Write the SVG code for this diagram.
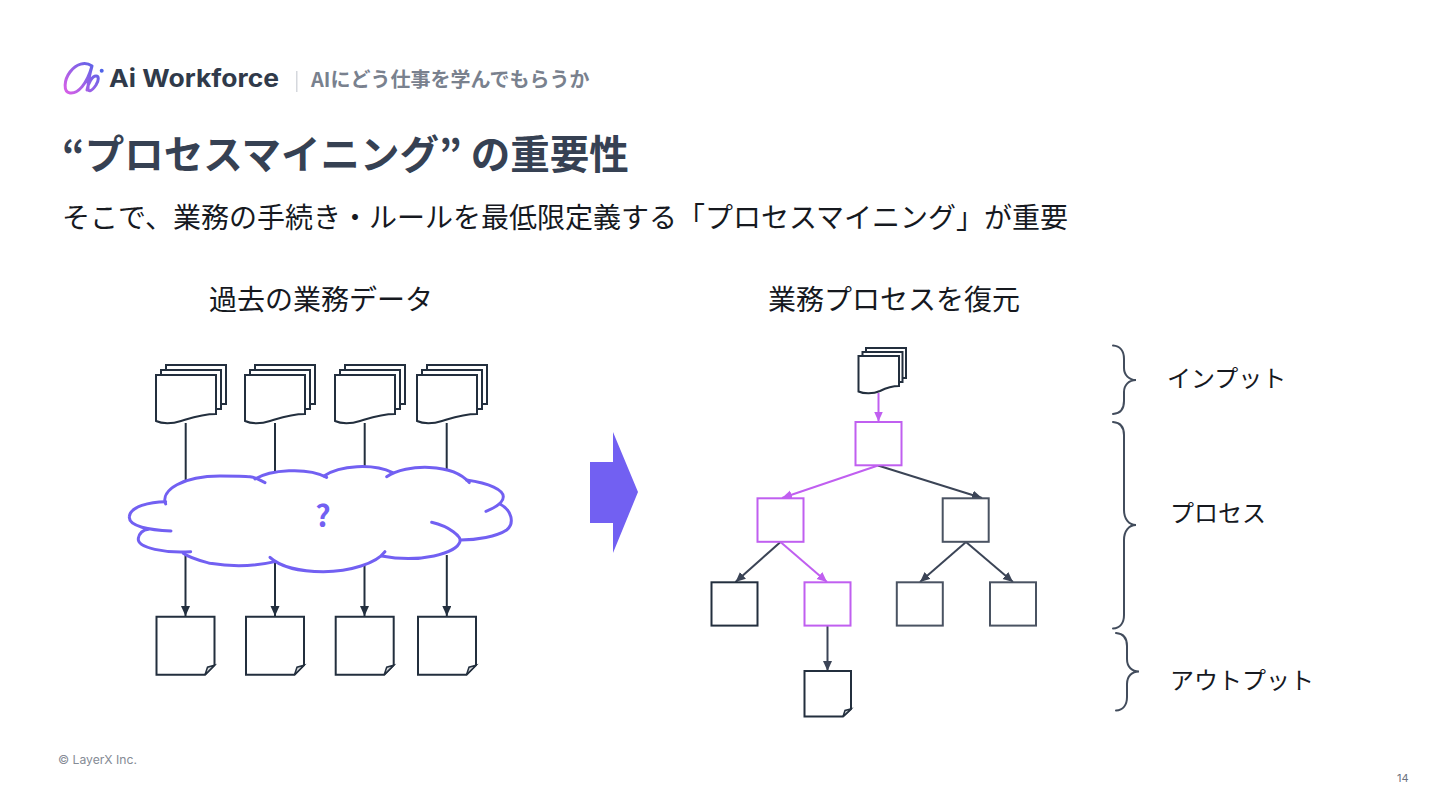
<svg xmlns="http://www.w3.org/2000/svg" width="1440" height="810" viewBox="0 0 1440 810">
<style>
.jp{font-family:"Noto Sans CJK JP","Noto Sans",sans-serif}
.lat{font-family:"Inter","Liberation Sans",sans-serif}
.t{font-size:28px;fill:#16191f}
.l{font-size:24px;fill:#16191f}
.dk{fill:#fff;stroke:#232f3e;stroke-width:2}
.cn{fill:none;stroke:#232f3e;stroke-width:2}
.cng{fill:none;stroke:#3b4456;stroke-width:2}
.cnp{fill:none;stroke:#c05ff0;stroke-width:2}
.bp{fill:#fff;stroke:#c05ff0;stroke-width:2}
.bg{fill:#fff;stroke:#4a5362;stroke-width:2}
.bb{fill:#fff;stroke:#232f3e;stroke-width:2}
.brace{fill:none;stroke:#424c5c;stroke-width:2;stroke-linecap:round}
.cloud{fill:none;stroke:#7260f2;stroke-width:3;stroke-linecap:round}
</style>
<defs>
<linearGradient id="lg" gradientUnits="userSpaceOnUse" x1="66" y1="94" x2="100" y2="64"><stop offset="0" stop-color="#d95fe6"/><stop offset="1" stop-color="#4f63e8"/></linearGradient>
<marker id="aD" markerUnits="userSpaceOnUse" markerWidth="11" markerHeight="10" refX="10" refY="4.500" orient="auto"><path d="M0 0L10 4.500L0 9Z" fill="#232f3e"/></marker>
<marker id="aG" markerUnits="userSpaceOnUse" markerWidth="11" markerHeight="10" refX="10" refY="4.500" orient="auto"><path d="M0 0L10 4.500L0 9Z" fill="#3b4456"/></marker>
<marker id="aP" markerUnits="userSpaceOnUse" markerWidth="11" markerHeight="10" refX="10" refY="4.500" orient="auto"><path d="M0 0L10 4.500L0 9Z" fill="#c05ff0"/></marker>
<g id="stack">
<rect class="dk" x="10" y="-10" width="60" height="39"/>
<rect class="dk" x="5" y="-5" width="60" height="39"/>
<path class="dk" d="M0 0H60V39C45 39 32 44 25 46C16 49 6 49 0 46Z"/>
</g>
<g id="page">
<path class="dk" d="M0 0H58V48.500L48.500 58H0Z"/>
<path d="M48.500 58L51 50.500L58 48.500Z" fill="#d7dadd" stroke="#232f3e" stroke-width="1.500"/>
</g>
</defs>
<rect width="1440" height="810" fill="#fff"/>

<g id="logo">
<path d="M92 66C85 61 76 64 70 72C64 80 63 92 70 93C78 94 87 84 92 66C90 73 88 82 88 88C88 93 92 91 96 85C99 80 99 76 96 76C92 76 88 84 87 90" fill="none" stroke="url(#lg)" stroke-width="3" stroke-linecap="round" stroke-linejoin="round"/>
<circle cx="101.700" cy="70.700" r="2" fill="#4f63e8"/>
<text x="109" y="87" class="lat" font-size="24.500" font-weight="700" fill="#303a4a" textLength="170" lengthAdjust="spacingAndGlyphs">Ai Workforce</text>
<rect x="296" y="71" width="1.500" height="21" fill="#d5d8dd"/>
<text x="311" y="86.500" class="jp" font-size="20" font-weight="700" fill="#79818e">AIにどう仕事を学んでもらうか</text>
</g>
<text id="title" x="62" y="169" class="jp" font-size="39.500" font-weight="700" fill="#364153">“プロセスマイニング” の重要性</text>
<text id="subtitle" x="62" y="228" class="jp t">そこで、業務の手続き・ルールを最低限定義する「プロセスマイニング」が重要</text>
<text id="h-left" x="209" y="310" class="jp t">過去の業務データ</text>
<text id="h-right" x="768" y="310" class="jp t">業務プロセスを復元</text>

<g id="connectors">
<path class="cn" d="M185.700 423V490M275 423V490M364.700 423V490M446.700 423V490"/>
<path class="cn" marker-end="url(#aD)" d="M185.500 555V616"/>
<path class="cn" marker-end="url(#aD)" d="M275 555V616"/>
<path class="cn" marker-end="url(#aD)" d="M364.500 555V616"/>
<path class="cn" marker-end="url(#aD)" d="M446.800 555V616"/>
<path class="cnp" marker-end="url(#aP)" d="M878.500 393V421.500"/>
<path class="cnp" marker-end="url(#aP)" d="M878 465.500L782 498"/>
<path class="cng" marker-end="url(#aG)" d="M878 465.500L982 498"/>
<path class="cng" marker-end="url(#aG)" d="M780.500 542L735.500 582"/>
<path class="cnp" marker-end="url(#aP)" d="M780.500 542L827 582"/>
<path class="cng" marker-end="url(#aG)" d="M966 542L920 582"/>
<path class="cng" marker-end="url(#aG)" d="M966 542L1013 582"/>
<path class="cng" marker-end="url(#aG)" d="M827.500 626V671"/>
</g>

<g id="stack1"><use href="#stack" x="156" y="375"/></g>
<g id="stack2"><use href="#stack" x="245" y="375"/></g>
<g id="stack3"><use href="#stack" x="335" y="375"/></g>
<g id="stack4"><use href="#stack" x="417" y="375"/></g>

<g id="cloud">
<g transform="translate(120 350) scale(.3333)">
<path fill="#fff" d="M137 462C120 420 190 378 300 378L405 387C450 360 560 350 612 378C660 345 760 340 800 380C860 340 1000 340 1040 390C1110 400 1150 420 1150 440L1140 462C1175 480 1185 520 1160 540C1130 560 1070 570 1022 570C1010 610 900 640 795 605C770 640 690 665 610 665C540 665 480 650 465 635C400 650 330 650 270 640C240 632 210 625 212 605C140 610 50 595 55 565C58 550 70 540 85 538C25 530 25 470 137 455Z"/>
<g style="stroke-width:9" class="cloud">
<path d="M137 462C120 420 190 378 300 378S400 380 435 398"/>
<path d="M405 387C450 360 560 350 620 382"/>
<path d="M612 378C660 345 760 340 818 368"/>
<path d="M800 380C860 340 1000 340 1048 398"/>
<path d="M1040 390C1110 400 1150 420 1150 440C1150 460 1120 475 1098 484"/>
<path d="M1140 462C1175 480 1185 520 1160 540C1130 560 1070 570 1022 570"/>
<path d="M935 517C990 530 1025 560 1020 575C1010 610 900 640 785 618"/>
<path d="M795 605C770 640 690 665 610 665C540 665 480 650 450 622"/>
<path d="M465 635C400 650 330 650 270 640C240 632 210 625 190 610"/>
<path d="M212 605C140 610 50 595 55 565C58 550 70 540 85 538"/>
<path d="M153 543C90 540 25 530 28 500C30 470 90 455 137 455"/>
</g>
</g>
<text x="323" y="527" text-anchor="middle" class="jp" font-size="30" font-weight="700" fill="#7260f2">?</text>
</g>

<g id="page1"><use href="#page" x="156.500" y="616.700"/></g>
<g id="page2"><use href="#page" x="246" y="616.700"/></g>
<g id="page3"><use href="#page" x="335.700" y="616.700"/></g>
<g id="page4"><use href="#page" x="418" y="616.700"/></g>

<g id="big-arrow"><path d="M590 462H613V432L638 492L613 553V523H590Z" fill="#7260f2"/></g>

<g id="input-stack">
<rect class="dk" x="866" y="348" width="40" height="30"/>
<rect class="dk" x="862.500" y="352" width="40" height="30"/>
<path class="dk" d="M858.500 356H899V386C890 386 884 389 880 391C873 394 864 394 858.500 391.500Z"/>
</g>
<g id="p0"><rect class="bp" x="855.500" y="422" width="46" height="43.300"/></g>
<g id="p1"><rect class="bp" x="757.500" y="498.300" width="46" height="43.500"/></g>
<g id="p2"><rect class="bg" x="942.700" y="498.300" width="46" height="43.500"/></g>
<g id="p3"><rect class="bb" x="711.500" y="582.300" width="46" height="43.300"/></g>
<g id="p4"><rect class="bp" x="804.500" y="582.300" width="46" height="43.300"/></g>
<g id="p5"><rect class="bg" x="896.800" y="582.300" width="46" height="43.300"/></g>
<g id="p6"><rect class="bg" x="990" y="582.300" width="46" height="43.300"/></g>
<g id="output-page">
<path class="dk" d="M804.500 671H851V709L843 716.500H804.500Z"/>
<path d="M843 716.500L845 710.500L851 709Z" fill="#d7dadd" stroke="#232f3e" stroke-width="1.500"/>
</g>

<g id="brace-input"><path class="brace" d="M1113 345.500C1120 346 1124 351 1124 359V368C1124 375 1129 380 1136 380C1129 380 1124 385 1124 392V401C1124 409 1120 413.500 1113 414"/></g>
<g id="brace-process"><path class="brace" d="M1113 422C1120 422.500 1124 427 1124 435V510C1124 519 1129 525 1136 525C1129 525 1124 531 1124 540V615C1124 623 1120 628 1113 628.500"/></g>
<g id="brace-output"><path class="brace" d="M1116 633C1123 633.500 1127 638 1127 646V659C1127 667 1132 671.500 1139 671.500C1132 671.500 1127 676 1127 684V697C1127 705 1123 710 1116 710.500"/></g>

<text id="l-input" x="1167" y="387" class="jp l">インプット</text>
<text id="l-process" x="1170" y="522" class="jp l">プロセス</text>
<text id="l-output" x="1170" y="689" class="jp l">アウトプット</text>

<text id="footer" x="58" y="764" class="lat" font-size="11.500" fill="#858b95" textLength="79" lengthAdjust="spacingAndGlyphs">© LayerX Inc.</text>
<text id="page-no" x="1397" y="782" class="lat" font-size="11" fill="#6b7280">14</text>
</svg>
